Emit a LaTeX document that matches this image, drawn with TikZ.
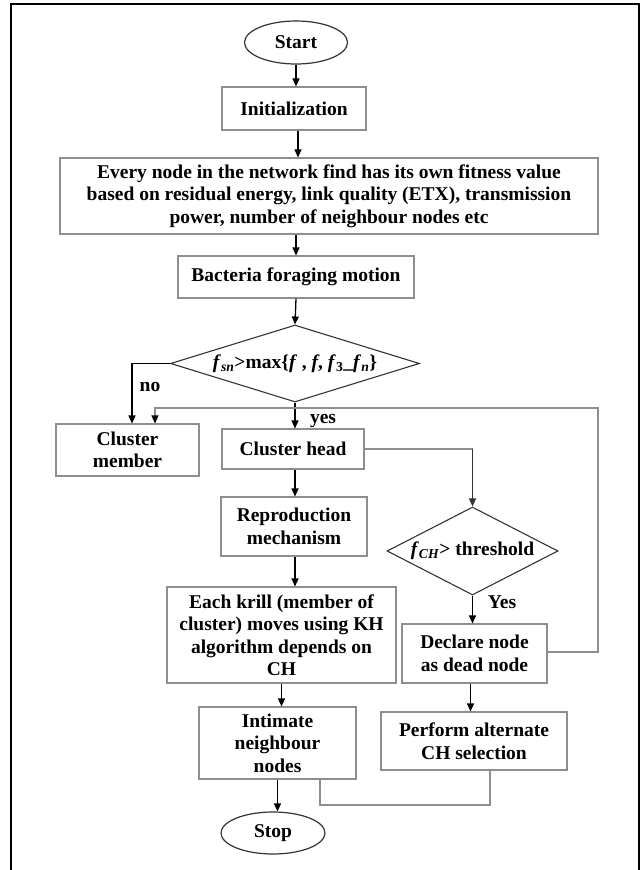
\documentclass[tikz,border=0pt]{standalone}
\usepackage{fontspec}
\setmainfont{Liberation Serif}
\usetikzlibrary{shapes.geometric,arrows.meta}
\definecolor{boxline}{HTML}{8E8E8E}
\definecolor{darkline}{HTML}{333333}
\begin{document}
\begin{tikzpicture}[x=1pt,y=-1pt,
  font=\bfseries\fontsize{19.5}{22.5}\selectfont,
  box/.style={draw=boxline,line width=1.1pt,rectangle,align=center,inner sep=0pt},
  term/.style={draw=darkline,line width=1.2pt,ellipse,align=center,inner sep=0pt},
  dia/.style={draw=darkline,line width=1.1pt,diamond,inner sep=0pt},
  arr/.style={line width=1.3pt,-{Triangle[length=8pt,width=7pt]}},
  feed/.style={draw=boxline,line width=1.1pt},
  feedarr/.style={draw=boxline,line width=1.1pt,-{Triangle[length=8pt,width=7pt,color=black,fill=black]}},
  lbl/.style={inner sep=0pt}]
\useasboundingbox (0,0) rectangle (640,870);
% page frame, open at the bottom
\draw[line width=2pt] (11,870) -- (11,4) -- (639,4) -- (639,870);

% main column
\node[term,minimum width=103pt,minimum height=43pt] (start) at (296,42.5) {Start};
\node[box,minimum width=144pt,minimum height=43pt] (init) at (294,108.5) {Initialization};
\node[box,minimum width=538pt,minimum height=76pt] (fit) at (329,196)
  {Every node in the network find has its own fitness value\\
   based on residual energy, link quality (ETX), transmission\\
   power, number of neighbour nodes etc};
\node[box,minimum width=236pt,minimum height=42pt] (bact) at (296,277) {Bacteria foraging motion};
\node[dia,minimum width=249pt,minimum height=77pt] (d1) at (295,363.5) {};
\node[lbl] (d1t) at (d1.center)
  {\textit{f}\textsubscript{\textit{sn}}>max\{\textit{f} , \textit{f}, \textit{f}\textsubscript{3}\_\textit{f}\textsubscript{\textit{n}}\}};

\node[box,minimum width=143pt,minimum height=52pt] (cm) at (127.5,450) {Cluster\\member};
\node[box,minimum width=142pt,minimum height=40pt] (ch) at (293,449) {Cluster head};
\node[box,minimum width=146pt,minimum height=59pt] (rep) at (294,526.5) {Reproduction\\mechanism};
\node[box,minimum width=229pt,minimum height=96pt] (krill) at (281.5,635)
  {Each krill (member of\\cluster) moves using KH\\algorithm depends on\\CH};
\node[box,minimum width=157pt,minimum height=72pt] (int) at (277.5,743) {Intimate\\neighbour\\nodes};
\node[term,minimum width=104pt,minimum height=42pt] (stop) at (273,833) {Stop};

% right column
\node[dia,minimum width=171pt,minimum height=88pt] (d2) at (472.5,551) {};
\node[lbl] (d2t) at (d2.center) {\textit{f}\textsubscript{\textit{CH}}> threshold};
\node[box,minimum width=145pt,minimum height=59pt] (dec) at (474.5,653.5) {Declare node\\as dead node};
\node[box,minimum width=186pt,minimum height=58pt] (perf) at (474,741) {Perform alternate\\CH selection};

% connectors
\draw[arr] (start.south) -- (start.south |- init.north);
\draw[arr] ([xshift=4pt]init.south) -- ([xshift=4pt]init.south |- fit.north);
\draw[arr] (bact.north |- fit.south) -- (bact.north);
\draw[arr] (bact.south) -- (d1.north);
\draw[arr] (d1.west) -| ([xshift=4.5pt]cm.north);
\node[lbl] (nolbl) at (150,387) {no};
\draw[arr] (d1.south) -- (d1.south |- ch.north);
\node[lbl] (yeslbl) at (323,421) {yes};
\draw[arr] ([xshift=2pt]ch.south) -- ([xshift=2pt]ch.south |- rep.north);
\draw[arr] ([xshift=1pt]rep.south) -- ([xshift=1pt]rep.south |- krill.north);
\draw[arr] (krill.south) -- (krill.south |- int.north);
\draw[arr] (int.south) -- (int.south |- stop.north);

\draw[feed] (ch.east) -- (d2.north |- ch.east);
\draw[arr,darkline] (d2.north |- ch.east) -- (d2.north);
\draw[arr] (d2.south) -- (d2.south |- dec.north);
\node[lbl] (Yeslbl) at (502,602) {Yes};
\draw[arr] ([xshift=-4pt]dec.south) -- ([xshift=-4pt]dec.south |- perf.north);

% feedback from the dead-node branch back to the cluster members
\draw[feedarr] (dec.east |- 0,652) -- (598,652) -- (598,408) -| ([xshift=27.5pt]cm.north);
% joining line below the last two steps
\draw[feed] ([xshift=16pt]perf.south) -- ([xshift=16pt]perf.south |- 0,805) -| ([xshift=42.5pt]int.south);
\end{tikzpicture}
\end{document}
